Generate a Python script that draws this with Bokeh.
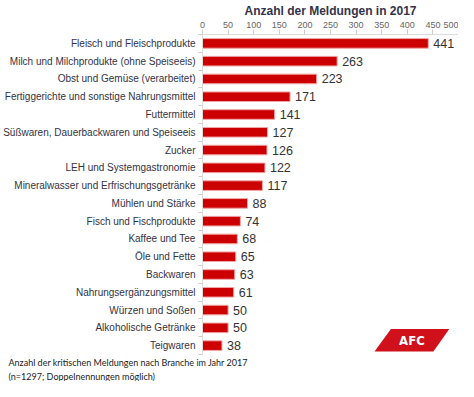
from bokeh.plotting import figure
from bokeh.models import ColumnDataSource, Range1d, FixedTicker, Title
from bokeh.core.properties import value
from bokeh.embed import file_html
from bokeh.resources import INLINE

categories = [
    "Fleisch und Fleischprodukte",
    "Milch und Milchprodukte (ohne Speiseeis)",
    "Obst und Gemüse (verarbeitet)",
    "Fertiggerichte und sonstige Nahrungsmittel",
    "Futtermittel",
    "Süßwaren, Dauerbackwaren und Speiseeis",
    "Zucker",
    "LEH und Systemgastronomie",
    "Mineralwasser und Erfrischungsgetränke",
    "Mühlen und Stärke",
    "Fisch und Fischprodukte",
    "Kaffee und Tee",
    "Öle und Fette",
    "Backwaren",
    "Nahrungsergänzungsmittel",
    "Würzen und Soßen",
    "Alkoholische Getränke",
    "Teigwaren",
]
counts = [441, 263, 223, 171, 141, 127, 126, 122, 117, 88, 74, 68, 65, 63, 61, 50, 50, 38]
x_ticks = [0, 50, 100, 150, 200, 250, 300, 350, 400, 450, 500]
title_text = "Anzahl der Meldungen in 2017"
note_lines = [
    "Anzahl der kritischen Meldungen nach Branche im Jahr 2017",
    "(n=1297; Doppelnennungen möglich)",
]
logo_text = "AFC"

pos = list(range(len(categories)))
src = ColumnDataSource(dict(y=pos, x=counts, lab=[str(c) for c in counts]))

p = figure(width=458, height=381, output_backend="svg", toolbar_location=None,
           x_range=Range1d(0, 500), y_range=Range1d(len(categories) - 0.5, -0.5),
           x_axis_location="above", min_border=0, min_border_left=188, min_border_right=0,
           min_border_top=0, min_border_bottom=0)
p.outline_line_color = None
p.background_fill_color = "white"
p.border_fill_color = "white"

p.title.text = title_text
p.title.align = "center"
p.title.text_font = "Liberation Sans"
p.title.text_font_size = "12px"
p.title.text_font_style = "bold"
p.title.text_color = "#33334a"
p.title.standoff = 2

p.hbar(y="y", right="x", left=0, height=0.54, source=src,
       fill_color="#cc0000", line_color="#f2a7a7", line_width=1)
p.text(x="x", y="y", text="lab", source=src, x_offset=5,
       text_baseline="middle", text_align="left",
       text_font=value("Liberation Sans"), text_font_size="12.5px", text_color="#333333")

# logo
p.patch(x=[336, 368, 482, 451], y=[17.33, 16.06, 16.06, 17.33],
        fill_color="#d0101a", line_color=None)
p.text(x=[409], y=[16.72], text=[logo_text], text_align="center", text_baseline="middle",
       text_font=value("DejaVu Sans Condensed"), text_font_style="bold",
       text_font_size="13px", text_color="white")

xa = p.xaxis[0]
xa.ticker = FixedTicker(ticks=x_ticks)
xa.axis_line_color = "#dddddd"
xa.major_tick_line_color = "#cccccc"
xa.major_tick_out = 5
xa.major_tick_in = 0
xa.minor_tick_line_color = None
xa.major_label_text_font = "Liberation Sans"
xa.major_label_text_font_size = "9px"
xa.major_label_text_color = "#666666"
xa.major_label_standoff = 2

ya = p.yaxis[0]
ya.ticker = FixedTicker(ticks=pos, minor_ticks=[i - 0.5 for i in range(len(categories) + 1)])
ya.major_label_overrides = {i: c for i, c in enumerate(categories)}
ya.axis_line_color = "#dddddd"
ya.major_tick_line_color = None
ya.major_tick_out = 0
ya.major_tick_in = 0
ya.minor_tick_line_color = "#cccccc"
ya.minor_tick_out = 4
ya.minor_tick_in = 0
ya.major_label_text_font = "Liberation Sans"
ya.major_label_text_font_size = "10px"
ya.major_label_text_color = "#333344"
ya.major_label_standoff = 3

p.xgrid.grid_line_color = None
p.ygrid.grid_line_color = None

note = Title(text="\n".join(note_lines), align="left", text_font="Lato",
             text_font_size="9px", text_font_style="normal", text_color="#222222",
             text_line_height=1.25, offset=-194, standoff=0)
p.add_layout(note, "below")

open("out.html", "w").write(file_html(p, INLINE))
